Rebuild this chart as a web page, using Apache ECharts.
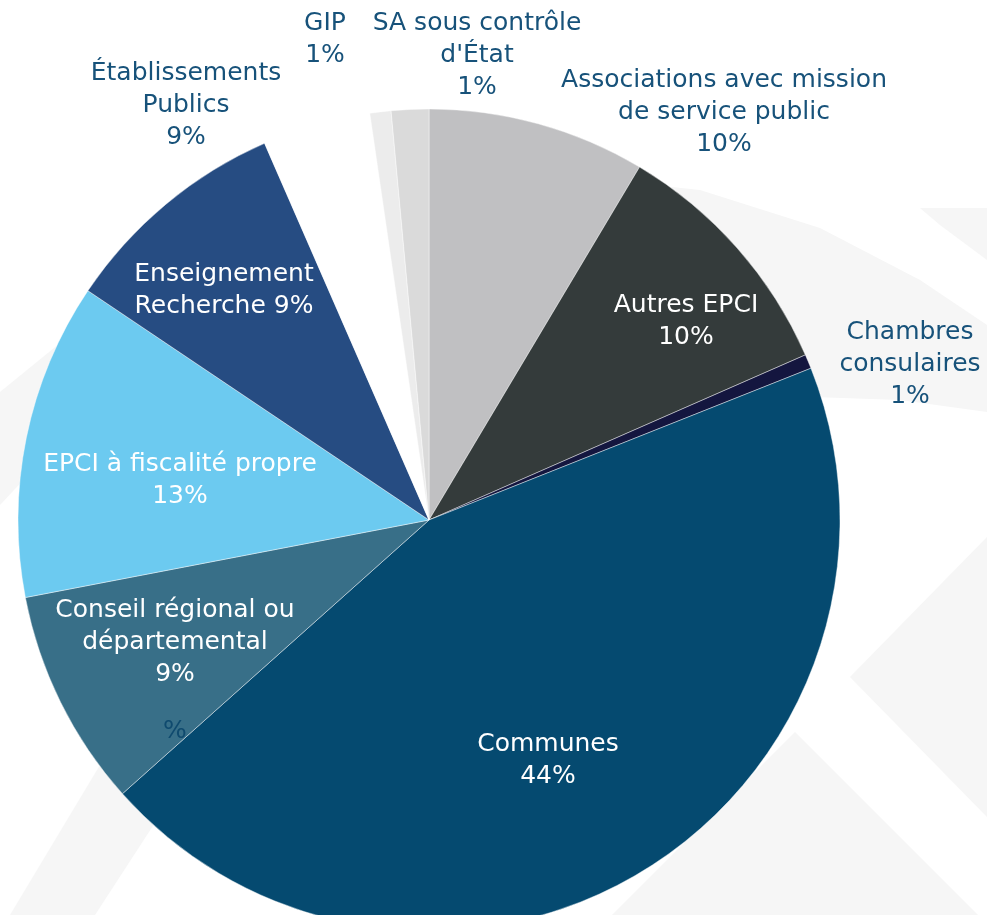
<!DOCTYPE html>
<html>
<head>
<meta charset="utf-8">
<script src="https://cdn.jsdelivr.net/npm/echarts@6/dist/echarts.min.js"></script>
<style>
  html, body { margin: 0; padding: 0; background: #fff; }
  #chart { width: 987px; height: 915px; }
</style>
</head>
<body>
<div id="chart"></div>
<script>
"use strict";

// slices, clockwise from 12 o'clock
var categories = [
  "Associations avec mission de service public",
  "Autres EPCI",
  "Chambres consulaires",
  "Communes",
  "Conseil régional ou départemental",
  "EPCI à fiscalité propre",
  "Enseignement Recherche",
  "Établissements Publics",
  "GIP",
  "SA sous contrôle d'État"
];
// share of the circle
var shares = [8.56, 9.86, 0.56, 44.42, 8.58, 12.44, 9.03, 4.25, 0.83, 1.47];
// percentages as printed on the chart
var printedPct = ["10%", "10%", "1%", "44%", "9%", "13%", "9%", "9%", "1%", "1%"];
// label text, with the line breaks of the picture ({p} = printed percent)
var labelText = [
  "Associations avec mission\nde service public\n{p}",
  "Autres EPCI\n{p}",
  "Chambres\nconsulaires\n{p}",
  "Communes\n{p}",
  "Conseil régional ou\ndépartemental\n{p}",
  "EPCI à fiscalité propre\n{p}",
  "Enseignement\nRecherche {p}",
  "Établissements\nPublics\n{p}",
  "GIP\n{p}",
  "SA sous contrôle\nd'État\n{p}"
];

// styling
var colors = ["#c0c0c2", "#343b3b", "#14163f", "#054a70", "#386f88",
              "#6ccaf0", "#264c82", "#ffffff", "#ececec", "#dadada"];
var insideLabel = [false, true, false, true, true, true, true, false, false, false];
var labelAt = [
  [724, 112], [686, 321], [910, 364], [548, 760], [175, 642],
  [180, 480], [224, 290], [186, 105], [325, 39], [477, 55]
];
var darkText = "#17527a";
var font = "'DejaVu Sans', 'Noto Sans', sans-serif";

var chart = echarts.init(document.getElementById("chart"), null, {renderer: "canvas"});

var data = categories.map(function (name, i) {
  return {
    name: name,
    value: shares[i],
    itemStyle: {color: colors[i]},
    label: {color: insideLabel[i] ? "#ffffff" : darkText}
  };
});

// faint decorative shapes behind the pie
var bg = "#f6f6f6";
var bgShapes = [
  [[560, 175], [700, 190], [820, 228], [920, 280], [987, 325], [987, 412], [900, 400], [813, 397], [780, 330]],
  [[920, 208], [987, 208], [987, 260], [940, 225]],
  [[850, 677], [987, 537], [987, 817]],
  [[795, 732], [978, 915], [612, 915]],
  [[100, 765], [160, 815], [95, 915], [10, 915]],
  [[0, 392], [70, 335], [70, 430], [0, 505]]
];

var graphics = bgShapes.map(function (pts) {
  return {type: "polygon", silent: true, shape: {points: pts}, style: {fill: bg}};
});
// stray label left on the source chart
graphics.push({
  type: "text", silent: true, z: 10, x: 175, y: 731,
  style: {text: "%", fill: "#0f4a6e", font: "25px " + font, align: "center", verticalAlign: "middle"}
});

var option = {
  backgroundColor: "#ffffff",
  animation: false,
  graphic: graphics,
  series: [{
    type: "pie",
    center: [429, 520],
    radius: [0, 411],
    startAngle: 90,
    clockwise: true,
    avoidLabelOverlap: false,
    itemStyle: {borderColor: "rgba(255,255,255,0.7)", borderWidth: 0.6},
    label: {
      show: true,
      position: "inside",
      fontFamily: font,
      fontSize: 25,
      lineHeight: 32,
      align: "center",
      formatter: function (p) {
        return labelText[p.dataIndex].replace("{p}", printedPct[p.dataIndex]);
      }
    },
    labelLine: {show: false},
    labelLayout: function (p) {
      var at = labelAt[p.dataIndex];
      return {x: at[0], y: at[1], align: "center", verticalAlign: "middle", hideOverlap: false};
    },
    emphasis: {disabled: true},
    data: data
  }]
};

chart.setOption(option);
</script>
</body>
</html>
